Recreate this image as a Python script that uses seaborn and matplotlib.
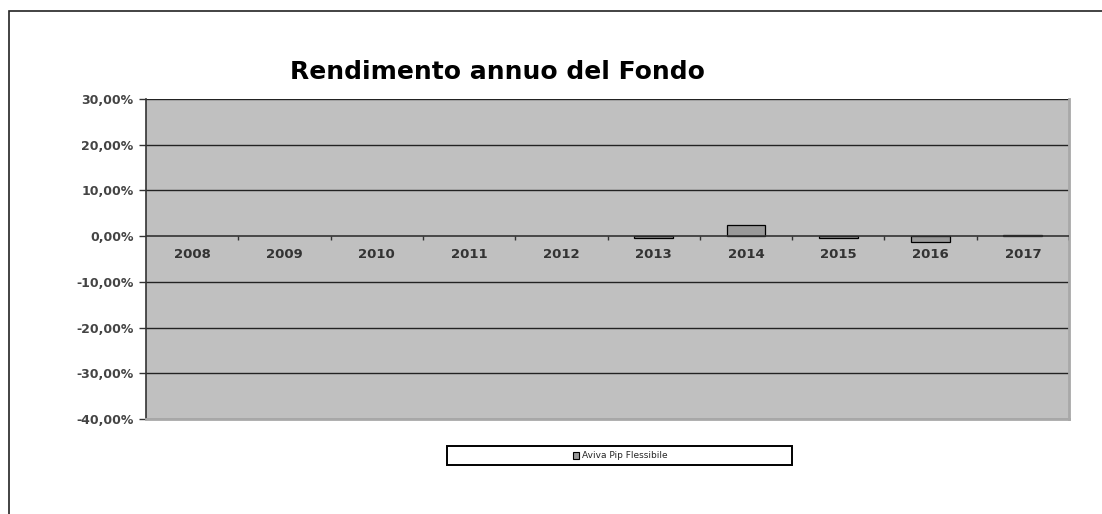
import matplotlib
matplotlib.use("Agg")
import matplotlib.pyplot as plt
from matplotlib.patches import Rectangle
from matplotlib.ticker import FuncFormatter
import pandas as pd
import seaborn as sns

years = ["2008", "2009", "2010", "2011", "2012", "2013", "2014", "2015", "2016", "2017"]
returns = [0.0, 0.0, 0.0, 0.0, 0.0, -0.3, 2.5, -0.3, -1.3, 0.3]
series_name = "Aviva Pip Flessibile"
y_ticks = [30, 20, 10, 0, -10, -20, -30, -40]

df = pd.DataFrame({"anno": years, "rendimento": returns, "serie": series_name})

sns.set_style("white")
plt.rcParams["font.family"] = ["DejaVu Sans"]

fig = plt.figure(figsize=(11.02, 5.14), dpi=100)
ax = fig.add_axes([146 / 1102, 1 - 419 / 514, 923 / 1102, 320 / 514])
ax.set_facecolor("#c0c0c0")

sns.barplot(data=df, x="anno", y="rendimento", hue="serie", ax=ax,
            palette=["#999999"], edgecolor="black", linewidth=0.9,
            width=0.42, legend=True)

# zero-height bars are not drawn in the original
for bars in ax.containers:
    for p in bars:
        if abs(p.get_height()) < 1e-9:
            p.set_visible(False)

ax.set_ylim(-40, 30)
ax.set_xlim(-0.5, len(years) - 0.5)
ax.set_yticks(y_ticks)
ax.yaxis.set_major_formatter(FuncFormatter(lambda v, p: f"{v:.2f}%".replace(".", ",")))
for t in y_ticks:
    if t != 0:
        ax.axhline(t, color="#222222", lw=1.0, zorder=0.5)
ax.axhline(0, color="#333333", lw=1.2, zorder=3)
ax.tick_params(axis="y", length=5, width=1, color="#333333", labelsize=9,
               labelcolor="#444444", pad=4, left=True)
for lab in ax.get_yticklabels():
    lab.set_fontweight("bold")

# category labels sit just under the zero line, inside the plot
ax.set_xticks([])
ax.set_xlabel("")
ax.set_ylabel("")
for i, y in enumerate(years):
    ax.text(i, -2.6, y, ha="center", va="top", fontsize=9.5, fontweight="bold",
            color="#333333")
ax.vlines([i + 0.5 for i in range(len(years))], -0.9, 0, color="#333333", lw=1, zorder=3)

ax.spines["top"].set_visible(False)
ax.spines["left"].set_color("#333333")
ax.spines["left"].set_linewidth(1.2)
for side in ["right", "bottom"]:
    ax.spines[side].set_visible(True)
    ax.spines[side].set_color("#a8a8a8")
    ax.spines[side].set_linewidth(2)

fig.text(497 / 1102, 1 - 72 / 514, "Rendimento annuo del Fondo", ha="center",
         va="center", fontsize=18, fontweight="bold", color="black")

# legend: boxed strip under the plot, entry centered in it
fig.add_artist(Rectangle((447 / 1102, 1 - 465 / 514), 345 / 1102, 19 / 514,
                         transform=fig.transFigure, facecolor="white",
                         edgecolor="black", lw=1.4, zorder=-1))
leg = ax.legend(loc="center", bbox_to_anchor=(620 / 1102, 1 - 456 / 514),
                bbox_transform=fig.transFigure, fontsize=6.5, frameon=False,
                handlelength=0.7, handleheight=0.7, handletextpad=0.3,
                borderpad=0.1)
for h in leg.legend_handles:
    h.set_visible(True)
    h.set_facecolor("#999999")
    h.set_edgecolor("black")
    h.set_linewidth(0.8)

# outer chart frame
fig.add_artist(Rectangle((9 / 1102, -0.1), 1.2, 1 - 11 / 514 + 0.1,
                         transform=fig.transFigure, fill=False,
                         edgecolor="#222222", lw=1.2))

fig.savefig("out.png", dpi=100, facecolor="white")
